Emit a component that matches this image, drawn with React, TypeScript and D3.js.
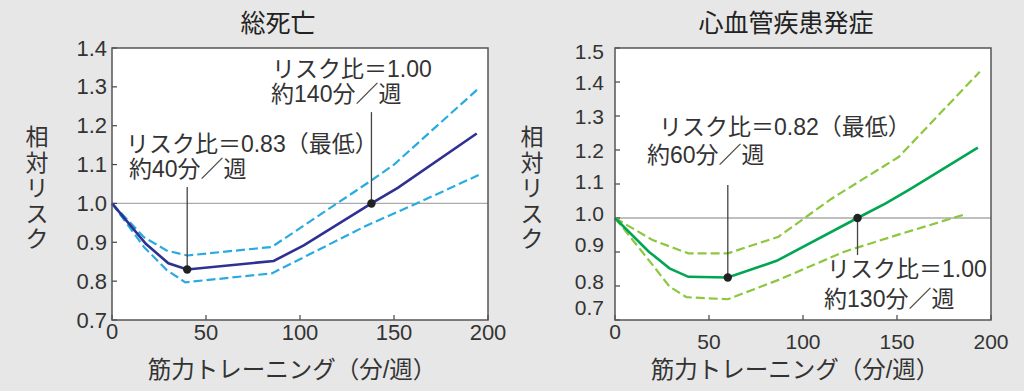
import React, { useEffect, useRef } from 'react';
import * as d3 from 'd3';

// x: strength training minutes / week, y: relative risk
const xTicks = [0, 50, 100, 150, 200];
const mortalityYTicks = [0.7, 0.8, 0.9, 1.0, 1.1, 1.2, 1.3, 1.4];
const cvdYTicks = [0.7, 0.8, 0.9, 1.0, 1.1, 1.2, 1.3, 1.4, 1.5];

const mortalityMid: [number, number][] = [
    [0, 1.0], [18, 0.896], [30, 0.846], [40, 0.83], [86, 0.852], [102, 0.892], [138, 1.0], [152, 1.04], [194, 1.18],
];
const mortalityUpper: [number, number][] = [
    [0, 1.0], [17, 0.913], [29, 0.879], [40, 0.866], [85, 0.888], [137, 1.056], [150, 1.1], [195, 1.296],
];
const mortalityLower: [number, number][] = [
    [0, 1.0], [17, 0.888], [29, 0.829], [39, 0.797], [85, 0.82], [135, 0.942], [162, 1.0], [195, 1.073],
];

const cvdMid: [number, number][] = [
    [0, 1.0], [18, 0.901], [29, 0.852], [39, 0.827], [60, 0.825], [86, 0.874], [129, 1.0], [144, 1.043], [157, 1.085], [193, 1.207],
];
const cvdUpper: [number, number][] = [
    [0, 1.0], [20, 0.935], [39, 0.896], [60, 0.896], [87, 0.945], [115, 1.056], [151, 1.18], [194, 1.43],
];
const cvdLower: [number, number][] = [
    [0, 1.0], [20, 0.862], [29, 0.798], [38, 0.767], [60, 0.761], [87, 0.818], [122, 0.901], [153, 0.955], [187, 1.012],
];

const mortalityPoints: [number, number][] = [[40, 0.83], [138, 1.0]];
const cvdPoints: [number, number][] = [[60, 0.825], [129, 1.0]];

// leader lines: x, from y, to y
const mortalityLeaders: [number, number, number][] = [[40, 1.042, 0.83], [138, 1.235, 1.0]];
const cvdLeaders: [number, number, number][] = [[60, 1.097, 0.825], [129, 1.0, 0.891]];

// annotation lines: text, x, y (baseline) in data units
const mortalityNotes: [string, number, number][] = [
    ['リスク比＝0.83（最低）', 7.4, 1.132],
    ['約40分／週', 9.0, 1.068],
    ['リスク比＝1.00', 85.1, 1.325],
    ['約140分／週', 84.6, 1.261],
];
const cvdNotes: [string, number, number][] = [
    ['リスク比＝0.82（最低）', 23.4, 1.244],
    ['約60分／週', 17.0, 1.162],
    ['リスク比＝1.00', 112.8, 0.826],
    ['約130分／週', 111.2, 0.738],
];

const FONT = '"Liberation Sans", "Noto Sans CJK JP", sans-serif';
const TEXT = '#333';

function App() {
    const ref = useRef<SVGSVGElement>(null);

    useEffect(() => {
        const svg = d3.select(ref.current);
        svg.selectAll('*').remove();

        svg.append('rect').attr('width', 1024).attr('height', 391).attr('fill', '#e7e7e7');

        const panels = [
            {
                title: '総死亡', titleX: 278, left: 112, yMax: 1.4, yTicks: mortalityYTicks, yLabelX: 37,
                mid: mortalityMid, upper: mortalityUpper, lower: mortalityLower,
                solid: '#2e3192', dashed: '#29abe2', points: mortalityPoints, leaders: mortalityLeaders,
                notes: mortalityNotes, tickSize: 22, nudge: {} as Record<string, number>, xNudge: 0,
            },
            {
                title: '心血管疾患発症', titleX: 786, left: 615, yMax: 1.5, yTicks: cvdYTicks, yLabelX: 532,
                mid: cvdMid, upper: cvdUpper, lower: cvdLower,
                solid: '#00a651', dashed: '#8dc63f', points: cvdPoints, leaders: cvdLeaders,
                notes: cvdNotes, tickSize: 21,
                nudge: { '1.5': 3, '1.1': -3, '1.0': -5, '0.9': -8, '0.8': -5, '0.7': -13 } as Record<string, number>,
                xNudge: 9,
            },
        ];

        panels.forEach((p) => {
            const w = 376, top = 48, bottom = 320;
            const x = d3.scaleLinear().domain([0, 200]).range([p.left, p.left + w]);
            const y = d3.scaleLinear().domain([0.7, p.yMax]).range([bottom, top]);
            const g = svg.append('g');

            g.append('text')
                .attr('x', p.titleX).attr('y', 23)
                .attr('text-anchor', 'middle').attr('dominant-baseline', 'central')
                .attr('font-family', FONT).attr('font-size', 25).attr('fill', '#222')
                .text(p.title);

            g.append('rect')
                .attr('x', p.left).attr('y', top).attr('width', w).attr('height', bottom - top)
                .attr('fill', '#fff');

            g.append('line')
                .attr('x1', p.left).attr('x2', p.left + w)
                .attr('y1', y(1)).attr('y2', y(1))
                .attr('stroke', '#aaa').attr('stroke-width', 1.3);

            // inward ticks
            g.selectAll('.yt').data(p.yTicks).enter().append('line')
                .attr('x1', p.left).attr('x2', p.left + 5)
                .attr('y1', (d) => y(d)).attr('y2', (d) => y(d))
                .attr('stroke', '#444').attr('stroke-width', 1.2);
            g.selectAll('.xt').data(xTicks).enter().append('line')
                .attr('x1', (d) => x(d)).attr('x2', (d) => x(d))
                .attr('y1', bottom).attr('y2', bottom - 5)
                .attr('stroke', '#444').attr('stroke-width', 1.2);

            g.selectAll('.yl').data(p.yTicks).enter().append('text')
                .attr('x', p.left - (p.left > 500 ? 11 : 5))
                .attr('y', (d) => y(d) + (p.nudge[d.toFixed(1)] || 0))
                .attr('text-anchor', 'end').attr('dominant-baseline', 'central')
                .attr('font-family', FONT).attr('font-size', p.tickSize).attr('fill', TEXT)
                .text((d) => d.toFixed(1));
            g.selectAll('.xl').data(xTicks).enter().append('text')
                .attr('x', (d) => x(d))
                .attr('y', (d) => 332 + (d === 0 ? -1 : p.xNudge))
                .attr('text-anchor', 'middle').attr('dominant-baseline', 'central')
                .attr('font-family', FONT).attr('font-size', p.tickSize).attr('fill', TEXT)
                .text((d) => String(d));

            const line = d3.line<[number, number]>().x((d) => x(d[0])).y((d) => y(d[1]));

            [p.upper, p.lower].forEach((s) => {
                g.append('path').attr('d', line(s)).attr('fill', 'none')
                    .attr('stroke', p.dashed).attr('stroke-width', 2.2)
                    .attr('stroke-dasharray', '9,4');
            });
            g.append('path').attr('d', line(p.mid)).attr('fill', 'none')
                .attr('stroke', p.solid).attr('stroke-width', 2.6);

            g.selectAll('.ld').data(p.leaders).enter().append('line')
                .attr('x1', (d) => x(d[0])).attr('x2', (d) => x(d[0]))
                .attr('y1', (d) => y(d[1])).attr('y2', (d) => y(d[2]))
                .attr('stroke', '#444').attr('stroke-width', 1.3);
            g.selectAll('.pt').data(p.points).enter().append('circle')
                .attr('cx', (d) => x(d[0])).attr('cy', (d) => y(d[1])).attr('r', 4.2)
                .attr('fill', '#222');

            g.append('rect')
                .attr('x', p.left).attr('y', top).attr('width', w).attr('height', bottom - top)
                .attr('fill', 'none').attr('stroke', '#555').attr('stroke-width', 1.5);

            g.selectAll('.nt').data(p.notes).enter().append('text')
                .attr('x', (d) => x(d[1])).attr('y', (d) => y(d[2]))
                .attr('font-family', FONT).attr('font-size', 23).attr('fill', TEXT)
                .text((d) => d[0]);

            const yLabel = g.append('text')
                .attr('font-family', FONT).attr('font-size', 23).attr('fill', TEXT)
                .attr('text-anchor', 'middle').attr('dominant-baseline', 'central');
            '相対リスク'.split('').forEach((c, i) => {
                yLabel.append('tspan').attr('x', p.yLabelX).attr('y', 137 + i * 25.5).text(c);
            });

            g.append('text')
                .attr('x', p.left + w / 2 - 8).attr('y', 370)
                .attr('text-anchor', 'middle').attr('dominant-baseline', 'central')
                .attr('font-family', FONT).attr('font-size', 23.5).attr('fill', TEXT)
                .text('筋力トレーニング（分/週）');
        });
    }, []);

    return (
        <svg ref={ref} width={1024} height={391}
            style={{ position: 'absolute', left: 0, top: 0, display: 'block' }} />
    );
}

export default App;
